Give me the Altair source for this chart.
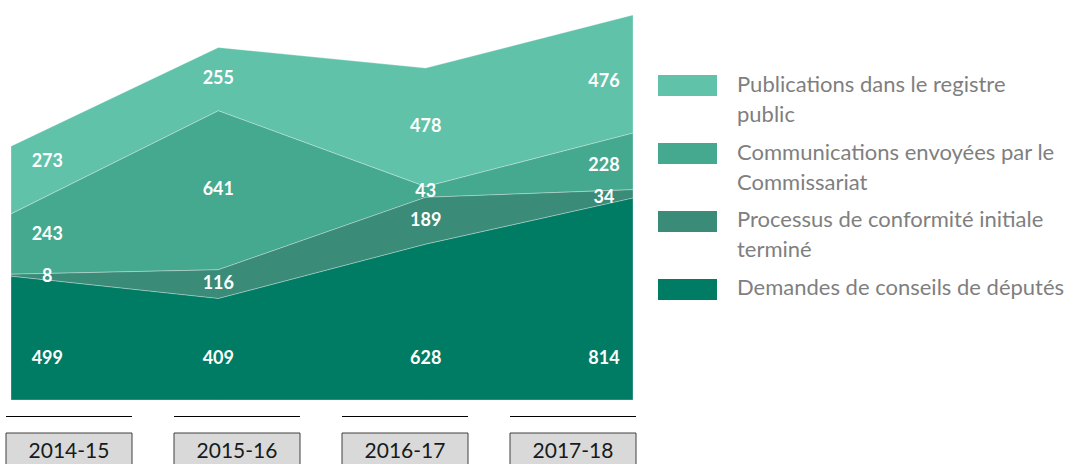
import altair as alt
import pandas as pd

years = ["2014-15", "2015-16", "2016-17", "2017-18"]
series = [
    "Publications dans le registre public",
    "Communications envoyées par le Commissariat",
    "Processus de conformité initiale terminé",
    "Demandes de conseils de députés",
]
legend_labels = [
    "Publications dans le registre\npublic",
    "Communications envoyées par le\nCommissariat",
    "Processus de conformité initiale\nterminé",
    "Demandes de conseils de députés",
]
publications = [273, 255, 478, 476]
communications = [243, 641, 43, 228]
processus = [8, 116, 189, 34]
demandes = [499, 409, 628, 814]
colors = ["#5fc2a9", "#44a98e", "#3a8b77", "#007b64"]

values = [publications, communications, processus, demandes]
rows = []
for s_i, (name, vals) in enumerate(zip(series, values)):
    for y_i, (yr, v) in enumerate(zip(years, vals)):
        rows.append({"series": name, "year": yr, "idx": y_i, "value": v, "rank": 3 - s_i})
df = pd.DataFrame(rows)
ymax = int(df.groupby("idx")["value"].sum().max())

color_scale = alt.Scale(domain=series, range=colors)
yscale = alt.Scale(domain=[0, ymax], nice=False)
xscale = alt.Scale(domain=[0, 3], nice=False, zero=False)

area = alt.Chart(df).mark_area(stroke="white", strokeWidth=1, strokeOpacity=0.3).encode(
    x=alt.X("idx:Q", scale=xscale, axis=None),
    y=alt.Y("value:Q", stack="zero", scale=yscale, axis=None),
    color=alt.Color("series:N", scale=color_scale, legend=None),
    order=alt.Order("rank:Q", sort="ascending"),
)

# labels sit inside each band; edge labels are pulled inward and follow the band there
lab_base = alt.Chart(df).transform_stack(
    stack="value", groupby=["idx"], as_=["v0", "v1"],
    sort=[alt.SortField("rank", order="ascending")],
).transform_calculate(
    mid="(datum.v0 + datum.v1) / 2",
).transform_window(
    prev="lag(mid)", next="lead(mid)",
    groupby=["series"], sort=[alt.SortField("idx", order="ascending")],
).transform_calculate(
    lx="datum.idx == 0 ? 0.175 : (datum.idx == 3 ? 2.86 : datum.idx)",
    ly="datum.idx == 0 ? datum.mid + 0.175 * (datum.next - datum.mid) : "
       "(datum.idx == 3 ? datum.mid + 0.14 * (datum.prev - datum.mid) : datum.mid)",
)
label_style = dict(font="Lato", fontWeight="bold", fontSize=18, color="white", baseline="middle")
labels_top = lab_base.transform_filter("datum.rank > 0").mark_text(**label_style).encode(
    x=alt.X("lx:Q", scale=xscale, axis=None),
    y=alt.Y("ly:Q", scale=yscale, axis=None),
    text="value:Q",
)
labels_bottom = lab_base.transform_filter("datum.rank == 0").mark_text(**label_style).encode(
    x=alt.X("lx:Q", scale=xscale, axis=None),
    y=alt.value(344),
    text="value:Q",
)

ydf = pd.DataFrame({"year": years})
bx = alt.X("year:N", scale=alt.Scale(type="band", domain=years, range=[-5, 625],
                                     paddingInner=0.25, paddingOuter=0), axis=None)
lines = alt.Chart(ydf).mark_rect(color="#000000").encode(x=bx, y=alt.value(401), y2=alt.value(402))
boxes = alt.Chart(ydf).mark_rect(fill="#d9d9d9", stroke="#404040", strokeWidth=1).encode(
    x=bx, y=alt.value(418), y2=alt.value(470))
boxtext = alt.Chart(ydf).mark_text(font="Lato", fontSize=21, color="#1a1a1a", baseline="middle").encode(
    x=bx, y=alt.value(437), text="year:N")

ldf = pd.DataFrame({"series": series, "label": legend_labels})
ly = alt.Y("series:N", scale=alt.Scale(type="band", domain=series, range=[60, 285],
                                       paddingInner=0.69, paddingOuter=0), axis=None)
swatch = alt.Chart(ldf).mark_rect().encode(
    x=alt.value(647), x2=alt.value(706), y=ly,
    color=alt.Color("series:N", scale=color_scale, legend=None),
)
legtext = alt.Chart(ldf).mark_text(font="Lato", fontSize=22, color="#7f7f7f", align="left",
                                   baseline="top", lineBreak="\n", lineHeight=30, dy=-11).encode(
    x=alt.value(726), y=ly, text="label:N")

chart = alt.layer(
    alt.layer(area, labels_top, labels_bottom),
    alt.layer(lines, boxes, boxtext),
    alt.layer(swatch, legtext),
).resolve_scale(
    x="independent", y="independent", color="independent"
).properties(
    width=622, height=385,
    autosize=alt.AutoSizeParams(type="none"),
    padding={"left": 11, "top": 15, "right": 437, "bottom": 64},
    background="white",
).configure_view(stroke=None)

chart.save("out.html", embed_options={"renderer": "svg", "actions": False})
